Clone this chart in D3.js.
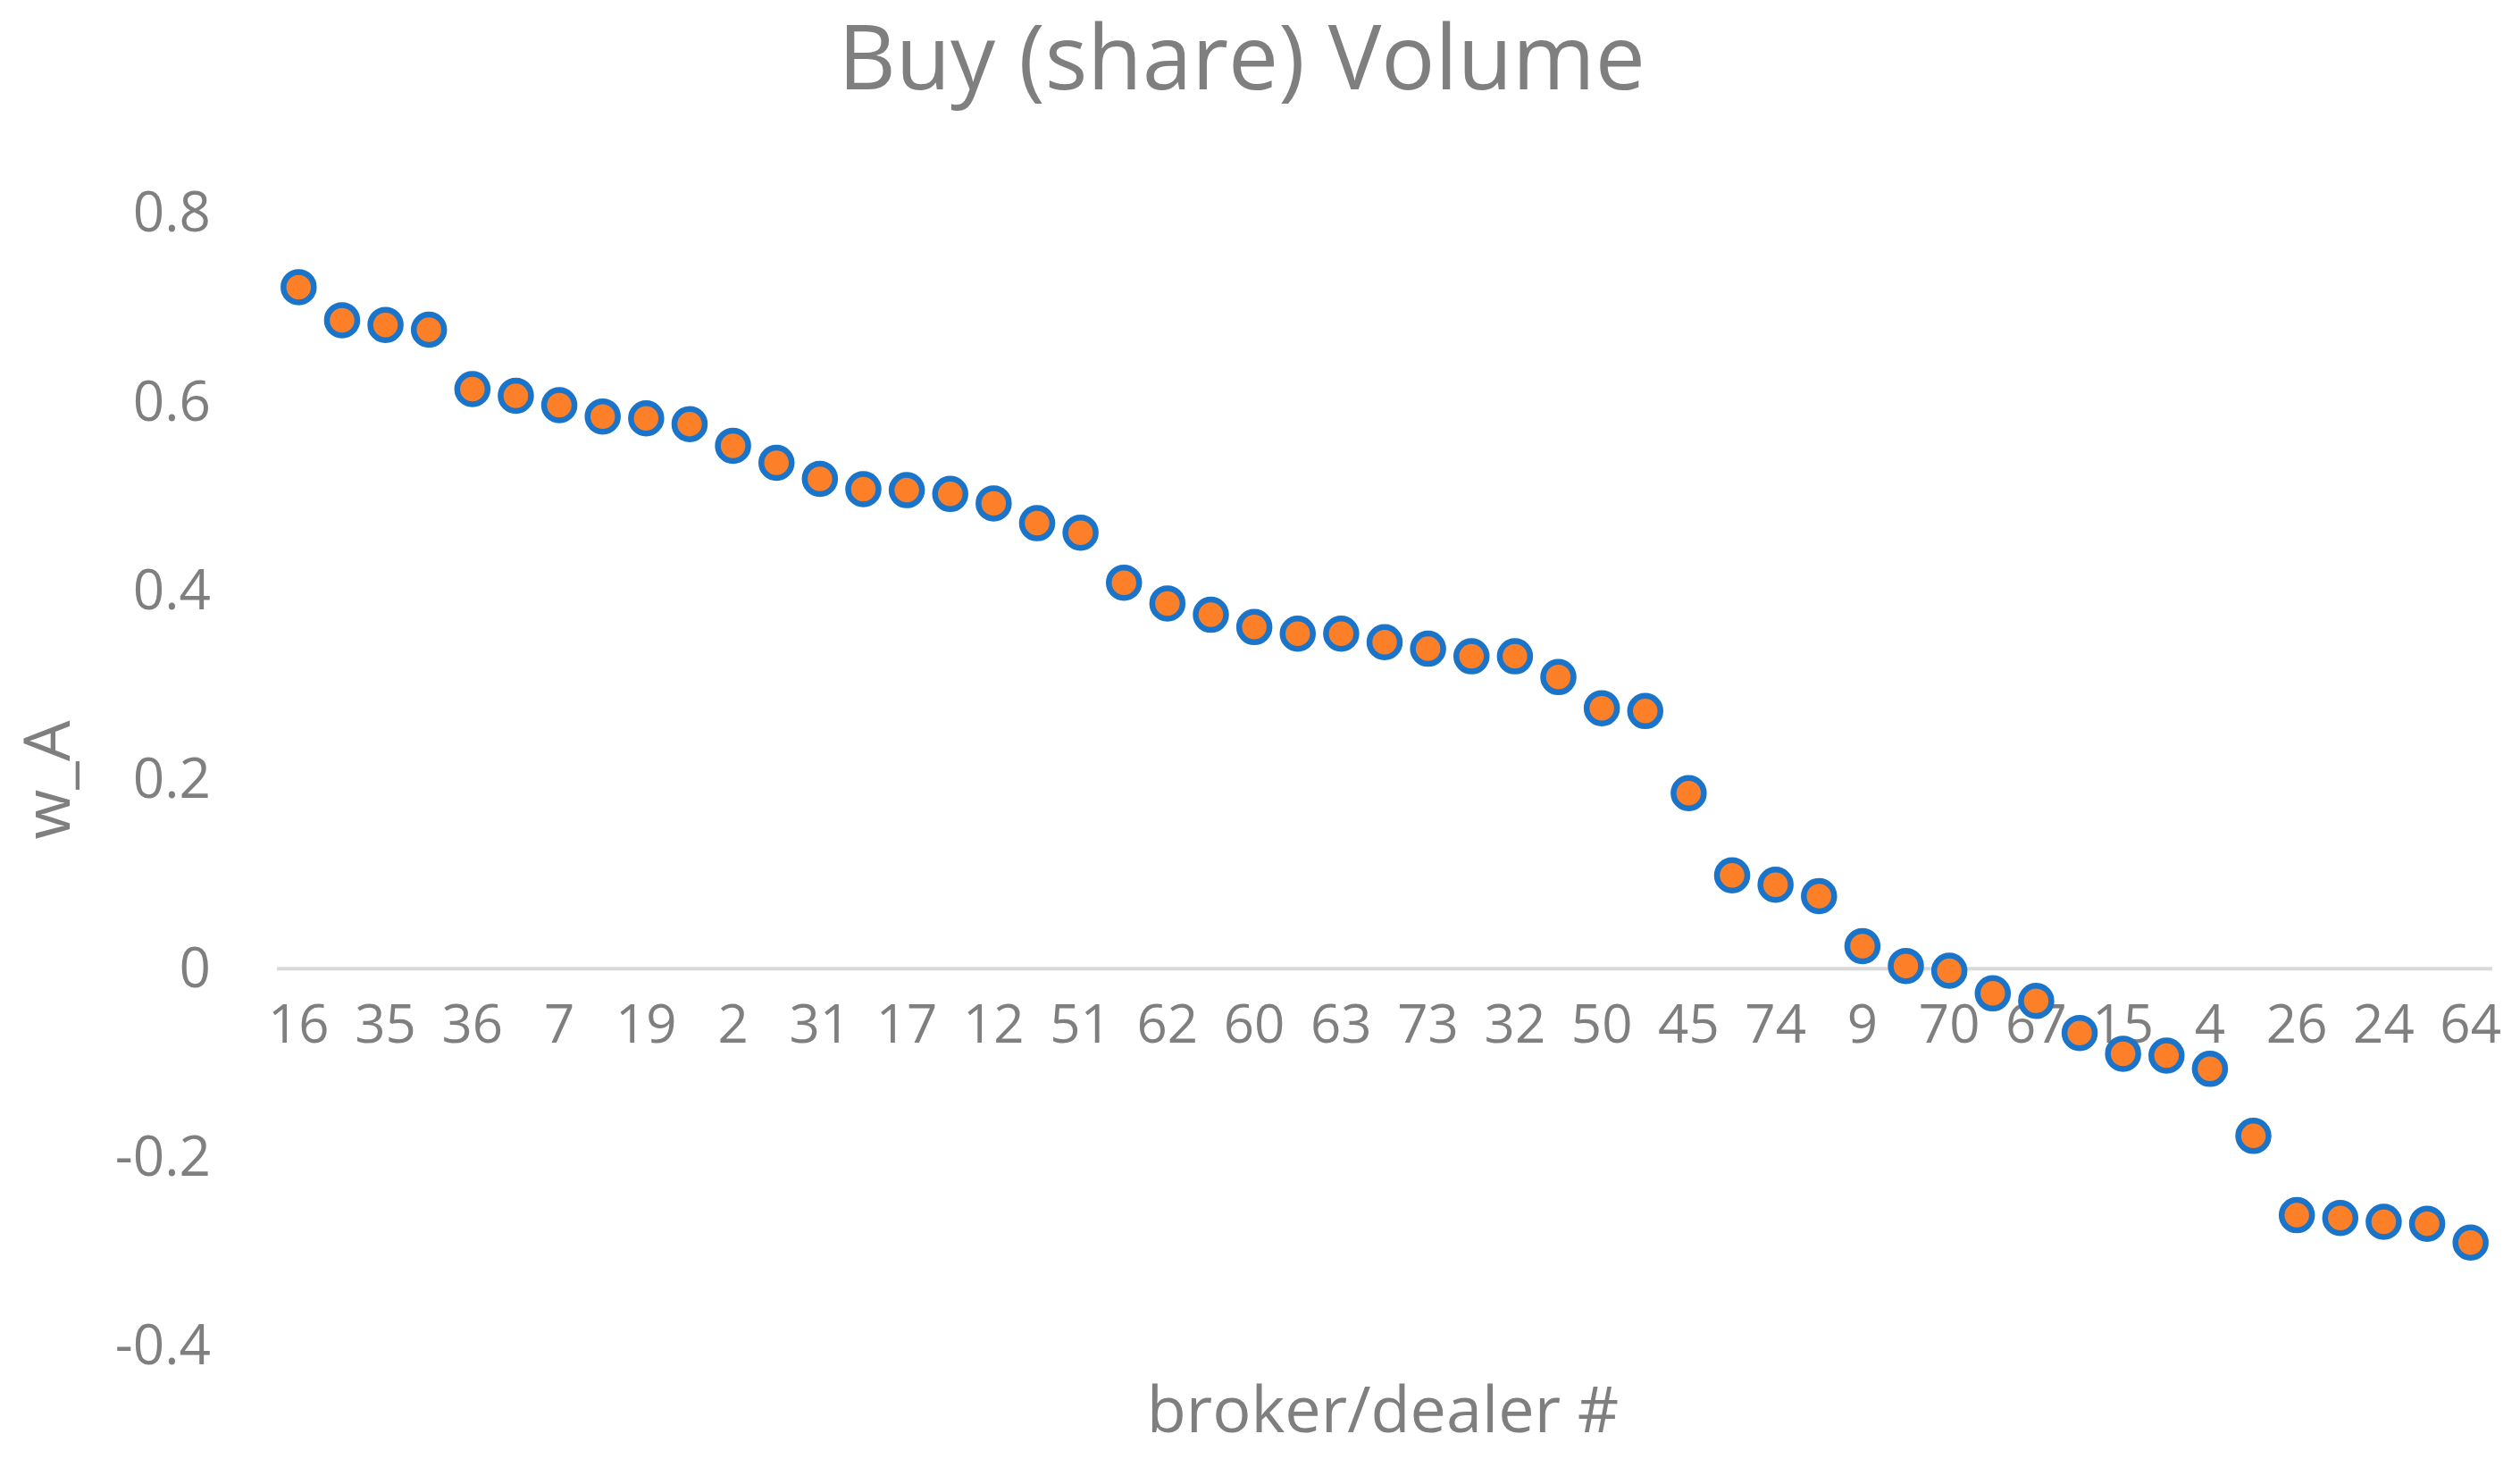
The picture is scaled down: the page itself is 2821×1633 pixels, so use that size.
<!DOCTYPE html>
<html>
<head>
<meta charset="utf-8">
<script src="https://cdn.jsdelivr.net/npm/d3@7"></script>
<style>
  body { margin: 0; background: #fff; }
  text { font-family: "Open Sans", "Liberation Sans", sans-serif; fill: #7f7f7f; }
</style>
</head>
<body>
<div id="chart"></div>
<script>
// broker/dealer ids; only every other label is printed on the axis, odd ones unreadable
var brokers = ["16", "", "35", "", "36", "", "7", "", "19", "", "2", "", "31", "", "17", "", "12", "", "51", "",
    "62", "", "60", "", "63", "", "73", "", "32", "", "50", "", "45", "", "74", "", "9", "", "70", "",
    "67", "", "15", "", "4", "", "26", "", "24", "", "64"];
var wA = [0.722, 0.687, 0.682, 0.677, 0.614, 0.607, 0.597, 0.585, 0.583, 0.577,
    0.554, 0.536, 0.519, 0.508, 0.507, 0.503, 0.493, 0.472, 0.462, 0.409,
    0.387, 0.375, 0.362, 0.355, 0.355, 0.346, 0.339, 0.331, 0.331, 0.309,
    0.276, 0.273, 0.186, 0.099, 0.089, 0.077, 0.024, 0.003, -0.002, -0.026,
    -0.034, -0.068, -0.090, -0.092, -0.106, -0.177, -0.261, -0.264, -0.268, -0.270, -0.290];
var yTicks = [-0.4, -0.2, 0, 0.2, 0.4, 0.6, 0.8];

var W = 2821, H = 1633;
var margin = { top: 239, bottom: 126, left: 310, right: 31 };
var svg = d3.select("#chart").append("svg").attr("width", W).attr("height", H);

var idx = wA.map(function (d, i) { return i; });
var x = d3.scaleBand().domain(idx).range([margin.left, W - margin.right]);
var y = d3.scaleLinear().domain([-0.4, 0.8]).range([H - margin.bottom, margin.top]);

// title
svg.append("text").attr("x", 1390).attr("y", 100).attr("text-anchor", "middle")
    .style("font-size", "100px").text("Buy (share) Volume");

// y axis labels (no line)
var yAxis = svg.append("g").attr("transform", "translate(" + (margin.left - 74) + ",0)")
    .call(d3.axisLeft(y).tickValues(yTicks).tickSize(0).tickPadding(0)
        .tickFormat(function (d) { return d === 0 ? "0" : d.toFixed(1); }));
yAxis.select(".domain").remove();
yAxis.selectAll("text").style("font-size", "62px").attr("fill", "#7f7f7f");

// zero line
svg.append("line").attr("x1", margin.left).attr("x2", W - margin.right)
    .attr("y1", y(0)).attr("y2", y(0)).attr("stroke", "#d9d9d9").attr("stroke-width", 4);

// category labels under zero line
var xAxis = svg.append("g").attr("transform", "translate(0," + (y(0) + 40) + ")")
    .call(d3.axisBottom(x).tickSize(0).tickPadding(0)
        .tickFormat(function (i) { return brokers[i]; }));
xAxis.select(".domain").remove();
xAxis.selectAll("text").style("font-size", "60px").attr("fill", "#7f7f7f");

// axis titles
svg.append("text").attr("transform", "translate(78," + ((margin.top + H - margin.bottom) / 2) + ") rotate(-90)")
    .attr("text-anchor", "middle").style("font-size", "72px").text("w_A");
svg.append("text").attr("x", 1548).attr("y", 1603).attr("text-anchor", "middle")
    .style("font-size", "72px").text("broker/dealer #");

// points
svg.append("g").selectAll("circle").data(wA).enter().append("circle")
    .attr("cx", function (d, i) { return x(i) + x.bandwidth() / 2; })
    .attr("cy", function (d) { return y(d); })
    .attr("r", 17)
    .attr("fill", "#fd7f28").attr("stroke", "#1a74c9").attr("stroke-width", 6.5);
</script>
</body>
</html>
